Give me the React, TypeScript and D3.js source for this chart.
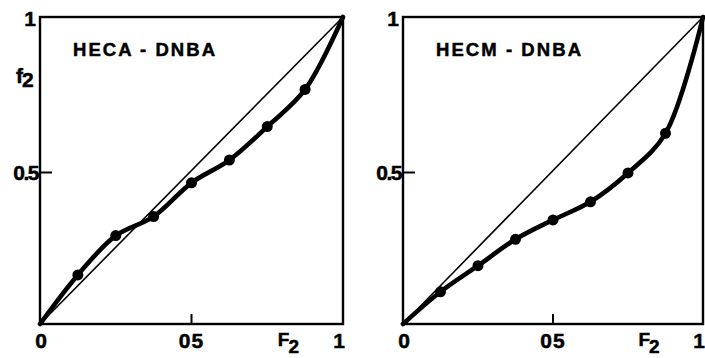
import React from "react";
import * as d3 from "d3";

// Data
const F2_values = [0.125, 0.25, 0.375, 0.5, 0.625, 0.75, 0.875];
const heca_f2 = [0.16, 0.288, 0.35, 0.46, 0.534, 0.643, 0.764];
const hecm_f2 = [0.105, 0.19, 0.276, 0.339, 0.398, 0.492, 0.621];
const curveStart = { x: 0, y: 0 };
const curveEnd = { x: 1, y: 1 };
const panelTitles = ["HECA - DNBA", "HECM - DNBA"];
const yTickLabels = ["1", "0.5"];
const xTickLabels = ["0", "05", "1"];

const FONT = "'Liberation Sans', Arial, Helvetica, sans-serif";
const textStyle = { fontFamily: FONT, fontWeight: "bold" as const, stroke: "#000", strokeWidth: 0.5 };

type Pt = { x: number; y: number };

function Panel({ left, right, top, bottom, values, title, showF2Label, titleWidth }: {
  left: number; right: number; top: number; bottom: number; values: number[]; title: string; showF2Label: boolean; titleWidth: number;
}) {
  const x = d3.scaleLinear().domain([0, 1]).range([left, right]);
  const y = d3.scaleLinear().domain([0, 1]).range([bottom, top]);
  const pts: Pt[] = F2_values.map((f, i) => ({ x: f, y: values[i] }));
  const curvePts: Pt[] = [curveStart, ...pts, curveEnd];
  const line = d3.line<Pt>().x(d => x(d.x)).y(d => y(d.y)).curve(d3.curveCatmullRom.alpha(0.5));
  const diag = d3.line<Pt>().x(d => x(d.x)).y(d => y(d.y));
  const y05 = y(0.5) + 2;
  const x05 = x(0.5);
  return (
    <g>
      <rect x={left} y={top} width={right - left} height={bottom - top} fill="none" stroke="#000" strokeWidth={2.4} />
      <path d={diag([curveStart, curveEnd]) || ""} fill="none" stroke="#000" strokeWidth={1.6} />
      <path d={line(curvePts) || ""} fill="none" stroke="#000" strokeWidth={4.6} strokeLinejoin="round" strokeLinecap="round" />
      {pts.map((p, i) => (
        <circle key={i} cx={x(p.x)} cy={y(p.y)} r={5.5} fill="#000" />
      ))}
      {/* ticks */}
      <line x1={left} x2={left + 12} y1={y05} y2={y05} stroke="#000" strokeWidth={2} />
      <line x1={x05} x2={x05} y1={bottom} y2={bottom - 10} stroke="#000" strokeWidth={2} />
      {/* y labels */}
      <text x={left - 10} y={top + 9} textAnchor="middle" style={textStyle} fontSize={21}>{yTickLabels[0]}</text>
      <text x={left - 2} y={y05 + 7} textAnchor="end" style={textStyle} fontSize={21} letterSpacing={-1.5}>{yTickLabels[1]}</text>
      {showF2Label && (
        <text x={16} y={83} style={textStyle} fontSize={21}>
          f<tspan dy={4} dx={-1}>2</tspan>
        </text>
      )}
      {/* x labels */}
      <text x={left + 1} y={348} textAnchor="middle" style={textStyle} fontSize={21}>{xTickLabels[0]}</text>
      <text x={x05} y={348} textAnchor="middle" style={textStyle} fontSize={21} letterSpacing={1}>{xTickLabels[1]}</text>
      <text x={right - 4} y={348} textAnchor="middle" style={textStyle} fontSize={21}>{xTickLabels[2]}</text>
      <text x={x(0.785)} y={346} style={textStyle} fontSize={19}>
        F<tspan dy={7} dx={-1}>2</tspan>
      </text>
      {/* title */}
      <text x={left + 33} y={56} style={textStyle} fontSize={18.5} textLength={titleWidth} lengthAdjust="spacing">{title}</text>
    </g>
  );
}

export default function App() {
  return (
    <svg width={705} height={358} style={{ position: "absolute", left: 0, top: 0, background: "#fff" }}>
      <rect x={0} y={0} width={705} height={358} fill="#fff" />
      <Panel left={40} right={343} top={17} bottom={324} values={heca_f2} title={panelTitles[0]} showF2Label={true} titleWidth={142} />
      <Panel left={403} right={703} top={17} bottom={324} values={hecm_f2} title={panelTitles[1]} showF2Label={false} titleWidth={145} />
    </svg>
  );
}
